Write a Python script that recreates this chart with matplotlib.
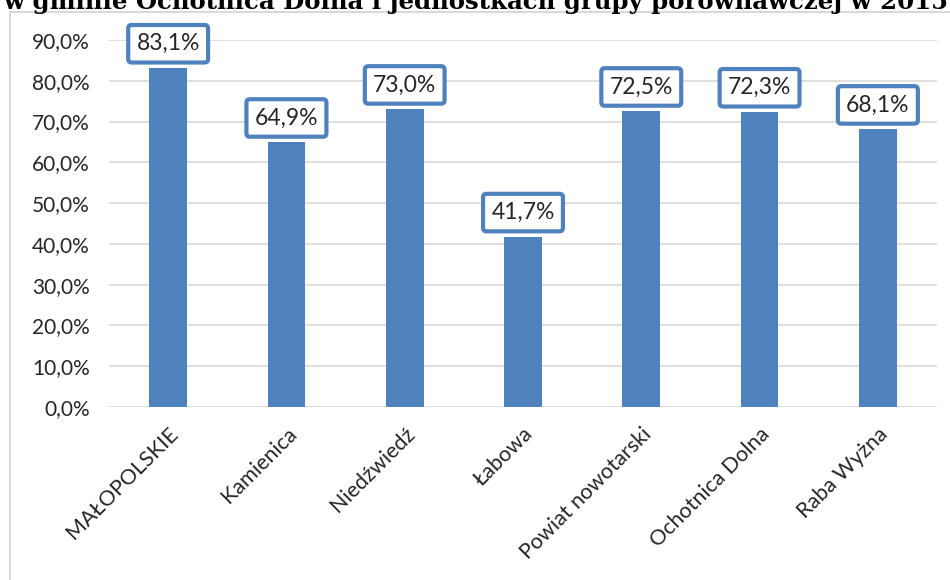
import matplotlib
matplotlib.use("Agg")
import matplotlib.pyplot as plt
from matplotlib.patches import Rectangle

categories = ["MAŁOPOLSKIE", "Kamienica", "Niedźwiedź", "Łabowa",
              "Powiat nowotarski", "Ochotnica Dolna", "Raba Wyżna"]
values = [83.1, 64.9, 73.0, 41.7, 72.5, 72.3, 68.1]
yticks = [0, 10, 20, 30, 40, 50, 60, 70, 80, 90]
title = "w gminie Ochotnica Dolna i jednostkach grupy porównawczej w 2015"

W, H = 950, 580
fig = plt.figure(figsize=(W / 100, H / 100), dpi=100)
fig.patch.set_facecolor("white")

# chart frame (partially visible)
fig.add_artist(Rectangle((10 / W, -0.1), 1.2, 1 - 12 / H + 0.1,
                         transform=fig.transFigure, fill=False,
                         edgecolor="#D9D9D9", linewidth=1.5))

# cropped title
fig.text(3 / W, 1 - 9 / H, title, fontsize=17.6, fontweight="bold",
         family="DejaVu Serif", va="baseline", ha="left", color="black")

ax = fig.add_axes([109 / W, 1 - 407 / H, (937 - 109) / W, (407 - 40) / H])
txtc = "#262626"
font = ["Lato", "DejaVu Sans"]
x = list(range(len(categories)))
ax.bar(x, values, width=0.32, color="#4F81BD", zorder=3)
ax.set_xlim(-0.5, len(categories) - 0.5)
ax.set_ylim(0, 90)
ax.set_yticks(yticks)
ax.set_yticklabels([f"{v:.1f}%".replace(".", ",") for v in yticks],
                   fontsize=15, color=txtc, family=font)
ax.grid(axis="y", color="#D9D9D9", linewidth=1.2, zorder=0)
for s in ax.spines.values():
    s.set_visible(False)
ax.tick_params(axis="both", length=0)
ax.tick_params(axis="y", pad=14)
ax.set_xticks(x)
ax.set_xticklabels(categories, rotation=45, ha="right", va="top",
                   rotation_mode="anchor", fontsize=15.5, color=txtc, family=font)
ax.tick_params(axis="x", pad=12)

for xi, v in zip(x, values):
    ax.annotate(f"{v:.1f}%".replace(".", ","), (xi, v), xytext=(0, 10),
                textcoords="offset points", ha="center", va="bottom",
                fontsize=16.5, color=txtc, family=font, zorder=5,
                bbox=dict(boxstyle="round,pad=0.36,rounding_size=0.15",
                          fc="white", ec="#4F81BD", lw=3), annotation_clip=False)

fig.savefig("out.png", dpi=100)
